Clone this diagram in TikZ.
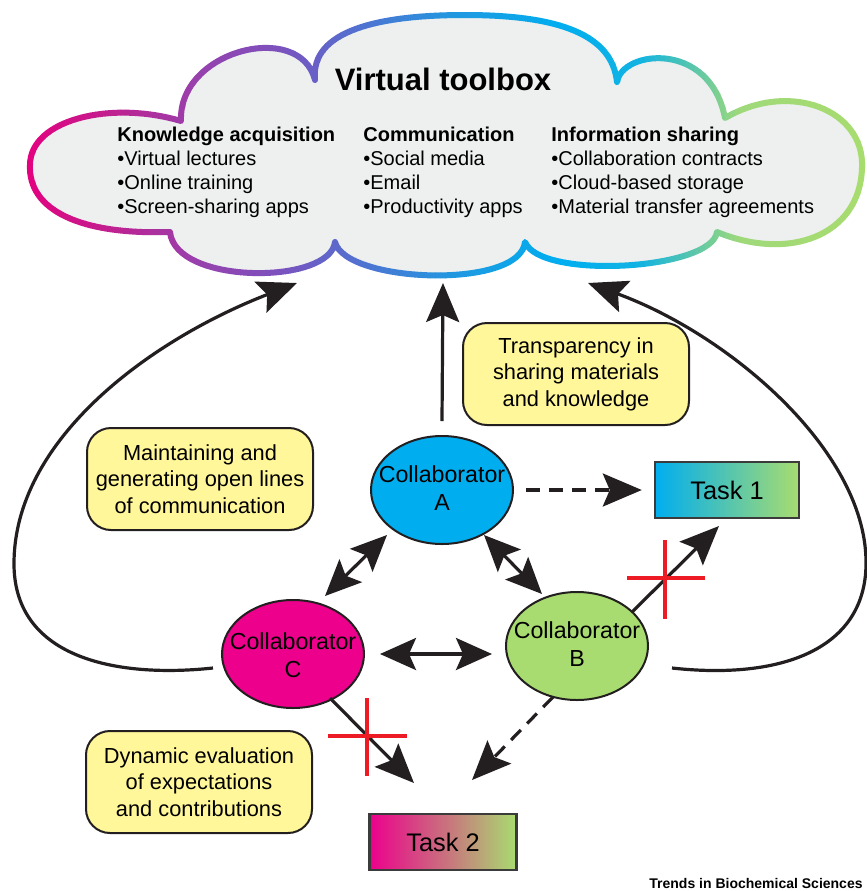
\documentclass[tikz,border=0pt]{standalone}
\usepackage{fontspec}
\setmainfont{Liberation Sans}
\usetikzlibrary{arrows.meta,shapes.geometric}
\definecolor{ink}{HTML}{231F20}
\definecolor{cA}{HTML}{00AEEF}
\definecolor{cB}{HTML}{A8DC70}
\definecolor{cC}{HTML}{EC008C}
\definecolor{noteyellow}{HTML}{FFF799}
\definecolor{cloudfill}{HTML}{EEEFEF}
\definecolor{xred}{HTML}{ED1C24}
\definecolor{taskborder}{HTML}{3B3B3B}
\definecolor{g0}{HTML}{E4007F}
\definecolor{g1}{HTML}{C0208F}
\definecolor{g2}{HTML}{9642AE}
\definecolor{g3}{HTML}{7B52BE}
\definecolor{g4}{HTML}{5072D1}
\definecolor{g5}{HTML}{2297E0}
\definecolor{g6}{HTML}{00AEEF}
\definecolor{g7}{HTML}{12B3E2}
\definecolor{g8}{HTML}{55C5AE}
\definecolor{g9}{HTML}{9FD97A}
\definecolor{g10}{HTML}{A8DC6E}
\def\cloudpath{(315,80) .. controls (310,30) and (380,15) .. (465,15)
 .. controls (560,15) and (612,35) .. (617,82)
 .. controls (622,50) and (710,40) .. (725,118)
 .. controls (790,80) and (865,110) .. (862,168)
 .. controls (860,235) and (790,262) .. (717,232)
 .. controls (712,270) and (540,280) .. (525,242)
 .. controls (520,290) and (345,283) .. (335,242)
 .. controls (330,285) and (175,285) .. (170,232)
 .. controls (80,235) and (28,210) .. (30,165)
 .. controls (30,120) and (110,100) .. (181,121)
 .. controls (178,50) and (300,20) .. (315,80) -- cycle}
\begin{document}
\begin{tikzpicture}[x=0.5pt,y=-0.5pt,
  arr/.style={line width=1.6pt, draw=ink, -{Stealth[length=19.5pt,width=16.5pt,inset=3.5pt]}},
  dbl/.style={line width=1.6pt, draw=ink, {Stealth[length=18pt,width=16pt,inset=3.5pt]}-{Stealth[length=18pt,width=16pt,inset=3.5pt]}},
  dsh/.style={arr, dash pattern=on 7pt off 4.5pt},
  collab/.style={ellipse, draw=ink, line width=1pt, minimum width=71pt, minimum height=54pt, inner sep=0pt},
  ctext/.style={align=center, inner sep=0pt, font=\fontsize{11.6}{14}\selectfont},
  note/.style={rounded corners=12pt, draw=ink, line width=1pt, fill=noteyellow, minimum width=113pt, minimum height=51pt, align=center, inner sep=0pt, font=\fontsize{10.9}{13.25}\selectfont},
  task/.style={draw=taskborder, line width=1.2pt, minimum width=72pt, minimum height=28pt, font=\fontsize{12.7}{15}\selectfont},
  col/.style={anchor=north west, inner sep=0pt, align=left, font=\fontsize{10}{12}\selectfont},
  redx/.style={draw=xred, line width=1.6pt},
]
\useasboundingbox (0,0) rectangle (867,891);
% cloud
\fill[cloudfill] \cloudpath;
\foreach \xa/\xb/\ca/\cb in {25/110/g0/g1,110/200/g1/g2,200/280/g2/g3,280/360/g3/g4,360/450/g4/g5,450/560/g5/g6,560/640/g6/g7,640/690/g7/g8,690/740/g8/g9,740/870/g9/g10}{
  \pgfmathtruncatemacro\n{(\xb-\xa)/5}
  \foreach \i in {1,...,\n}{
    \pgfmathsetmacro\xs{\xa+(\i-1)*5}
    \pgfmathtruncatemacro\p{100*(\i-0.5)/\n}
    \begin{scope}
      \clip (\xs,0) rectangle (\xs+5.4,300);
      \draw[line width=3pt, line join=round, draw={\cb!\p!\ca}] \cloudpath;
    \end{scope}
  }
}
\node[anchor=base, inner sep=0pt, font=\bfseries\fontsize{15.5}{18}\selectfont] (title) at (443,90) {Virtual toolbox};
\node[col] (k) at (117,127) {\textbf{Knowledge acquisition}\\•Virtual lectures\\•Online training\\•Screen-sharing apps};
\node[col] (m) at (363,127) {\textbf{Communication}\\•Social media\\•Email\\•Productivity apps};
\node[col] (s) at (551,127) {\textbf{Information sharing}\\•Collaboration contracts\\•Cloud-based storage\\•Material transfer agreements};
% notes
\node[note] (n1) at (576,374) {Transparency in\\sharing materials\\and knowledge};
\node[note] (n2) at (200,479) {Maintaining and\\generating open lines\\of communication};
\node[note] (n3) at (199,782) {Dynamic evaluation\\of expectations\\and contributions};
% collaborators
\node[collab, fill=cA] (A) at (442,490) {};
\node[collab, fill=cB] (B) at (577,646) {};
\node[collab, fill=cC] (C) at (293,654) {};
\node[ctext] (At) at (442,488) {Collaborator\\A};
\node[ctext] (Bt) at (577,644) {Collaborator\\B};
\node[ctext] (Ct) at (293,655) {Collaborator\\C};
% tasks
\node[task, left color=cA, right color=cB] (T1) at (727,490) {Task 1};
\node[task, left color=cC, right color=cB, minimum width=73.5pt] (T2) at (443,842) {Task 2};
% coordinates
\coordinate (cloudA) at (443,283);
\coordinate (cloudL) at (297,283);
\coordinate (cloudR) at (588,283);
\coordinate (startL) at (213,668);
\coordinate (startR) at (672,668);
\coordinate (acA) at (387,535);
\coordinate (acC) at (325,596);
\coordinate (abA) at (484,535);
\coordinate (abB) at (542,594);
\coordinate (btB) at (632,612);
\coordinate (btT) at (719,526);
\coordinate (ctC) at (330,698);
\coordinate (ctT) at (414,783);
\coordinate (bdB) at (553,697);
\coordinate (bdT) at (472,780);
% connectors
\draw[arr] ([yshift=7pt]A.north) -- (cloudA);
\draw[dsh] ([xshift=6pt]A.east) -- ([xshift=-6pt]T1.west);
\draw[dbl] (acA) -- (acC);
\draw[dbl] (abA) -- (abB);
\draw[dbl] ([xshift=7.5pt]C.east) -- ([xshift=-6.5pt]C.east -| B.west);
\draw[arr] (btB) -- (btT);
\draw[arr] (ctC) -- (ctT);
\draw[dsh] (bdB) -- (bdT);
\draw[arr] (startL) .. controls (120,678) and (15,660) .. (14,565) .. controls (13,440) and (150,340) .. (cloudL);
\draw[arr] (startR) .. controls (780,680) and (868,650) .. (866,560) .. controls (864,450) and (730,335) .. (cloudR);
% red crosses
\draw[redx] (627,578) -- (705,578);
\draw[redx] (665,540) -- (665,619);
\draw[redx] (328,736) -- (407,736);
\draw[redx] (367,698) -- (367,776);
% credit
\node[anchor=base west, inner sep=0pt, font=\bfseries\fontsize{7}{9}\selectfont] (credit) at (649,888) {Trends in Biochemical Sciences};
\end{tikzpicture}
\end{document}
